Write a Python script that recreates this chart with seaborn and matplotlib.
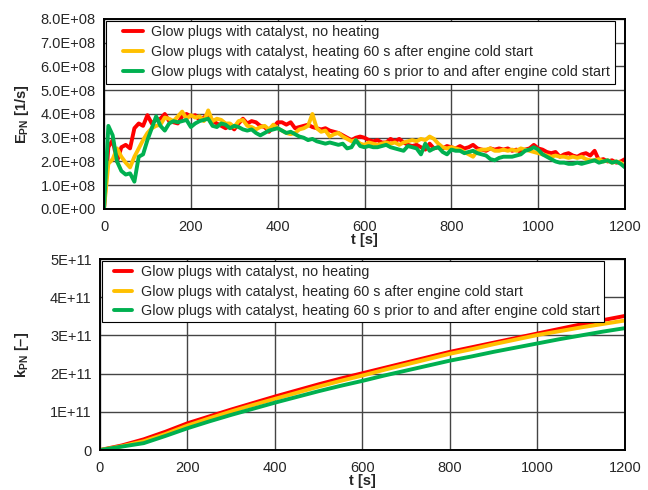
import numpy as np
import pandas as pd
import matplotlib
matplotlib.use('Agg')
import matplotlib.pyplot as plt
import seaborn as sns
from matplotlib.ticker import FuncFormatter, MultipleLocator
from matplotlib.lines import Line2D
from matplotlib.legend_handler import HandlerLine2D

# legend names
labels = ['Glow plugs with catalyst, no heating',
          'Glow plugs with catalyst, heating 60 s after engine cold start',
          'Glow plugs with catalyst, heating 60 s prior to and after engine cold start']
colores = ['#FF0000', '#FFC000', '#00B050']

# time axis of the E_PN curves (s)
t_e = list(range(0, 1210, 10))

# E_PN in 1E8 1/s
e_red = [0, 2.6, 2.9, 2.0, 2.6, 2.7, 2.55, 3.4, 3.6, 3.5,
         3.95, 3.6, 3.75, 3.8, 4.0, 3.7, 3.65, 3.6, 3.9, 4.0,
         3.9, 3.95, 3.75, 3.85, 4.0, 3.7, 3.6, 3.5, 3.4, 3.5,
         3.35, 3.6, 3.8, 3.6, 3.7, 3.65, 3.5, 3.45, 3.25, 3.45,
         3.65, 3.65, 3.55, 3.65, 3.4, 3.45, 3.5, 3.55, 3.45, 3.4,
         3.35, 3.4, 3.3, 3.25, 3.2, 3.1, 3.0, 2.9, 3.0, 3.05,
         3.0, 2.9, 2.85, 2.9, 2.8, 2.8, 2.95, 2.85, 2.95, 2.8,
         2.7, 2.65, 2.7, 2.6, 2.5, 2.75, 2.55, 2.6, 2.55, 2.65,
         2.6, 2.55, 2.65, 2.55, 2.6, 2.7, 2.55, 2.5, 2.45, 2.55,
         2.5, 2.55, 2.5, 2.55, 2.45, 2.5, 2.4, 2.5, 2.55, 2.7,
         2.55, 2.5, 2.4, 2.35, 2.4, 2.2, 2.3, 2.35, 2.25, 2.2,
         2.3, 2.35, 2.25, 2.45, 2.05, 2.1, 2.0, 2.05, 1.95, 2.0,
         2.1]
e_yellow = [0, 1.9, 2.1, 2.55, 2.2, 1.95, 1.75, 2.2, 2.55, 2.9,
            3.2, 3.4, 3.5, 3.55, 3.85, 3.8, 3.7, 3.9, 4.1, 3.8,
            3.95, 3.85, 3.9, 3.7, 4.15, 3.7, 3.8, 3.75, 3.6, 3.6,
            3.45, 3.7, 3.75, 3.5, 3.45, 3.35, 3.45, 3.5, 3.35, 3.55,
            3.4, 3.3, 3.2, 3.15, 3.2, 3.35, 3.4, 3.5, 4.0, 3.4,
            3.25, 3.3, 3.05, 3.15, 3.2, 3.05, 2.95, 2.85, 2.9, 2.75,
            2.7, 2.8, 2.75, 2.7, 2.75, 2.8, 2.75, 2.8, 2.7, 2.8,
            2.85, 2.9, 2.85, 2.95, 2.9, 3.05, 2.95, 2.75, 2.6, 2.55,
            2.6, 2.55, 2.5, 2.4, 2.3, 2.2, 2.45, 2.5, 2.5, 2.55,
            2.45, 2.45, 2.5, 2.45, 2.5, 2.45, 2.55, 2.5, 2.45, 2.4,
            2.35, 2.3, 2.25, 2.2, 2.25, 2.2, 2.2, 2.15, 2.2, 2.15,
            2.2, 2.1, 2.05, 2.05, 2.1, 2.0, 2.05, 1.95, 2.0, 1.95,
            1.8]
e_green = [0, 3.5, 3.1, 2.0, 1.6, 1.45, 1.5, 1.15, 2.2, 2.3,
           2.9, 3.4, 3.9, 3.5, 3.3, 3.6, 3.7, 3.65, 3.7, 3.75,
           3.45, 3.6, 3.7, 3.75, 3.8, 3.5, 3.45, 3.6, 3.55, 3.4,
           3.5, 3.45, 3.35, 3.3, 3.35, 3.2, 3.1, 3.2, 3.3, 3.35,
           3.4, 3.3, 3.2, 3.25, 3.15, 3.05, 3.0, 2.9, 2.95, 2.85,
           2.8, 2.75, 2.8, 2.75, 2.7, 2.75, 2.55, 2.6, 2.9, 2.65,
           2.6, 2.65, 2.6, 2.6, 2.65, 2.7, 2.6, 2.55, 2.5, 2.45,
           2.65, 2.6, 2.55, 2.3, 2.75, 2.45, 2.55, 2.6, 2.4, 2.3,
           2.5, 2.45, 2.45, 2.35, 2.4, 2.45, 2.35, 2.3, 2.25, 2.1,
           2.05, 2.15, 2.2, 2.2, 2.2, 2.25, 2.3, 2.45, 2.5, 2.6,
           2.5, 2.3, 2.2, 2.1, 2.0, 1.95, 1.95, 1.9, 1.9, 1.95,
           1.9, 1.95, 2.0, 2.05, 1.95, 2.0, 2.05, 1.95, 2.0, 1.9,
           1.75]

# cumulative k_PN in 1E11, read every 50 s
t_k = list(range(0, 1250, 50))
k_red = [0, 0.12, 0.28, 0.48, 0.70, 0.88, 1.06, 1.23, 1.40, 1.56, 1.72, 1.87, 2.01,
         2.15, 2.29, 2.43, 2.57, 2.69, 2.81, 2.93, 3.05, 3.17, 3.29, 3.40, 3.51]
k_yellow = [0, 0.10, 0.23, 0.42, 0.64, 0.83, 1.01, 1.18, 1.34, 1.50, 1.66, 1.81, 1.95,
            2.10, 2.24, 2.38, 2.52, 2.64, 2.77, 2.89, 3.01, 3.11, 3.21, 3.30, 3.39]
k_green = [0, 0.09, 0.18, 0.37, 0.57, 0.75, 0.92, 1.08, 1.24, 1.39, 1.54, 1.68, 1.81,
           1.95, 2.08, 2.21, 2.34, 2.45, 2.57, 2.68, 2.79, 2.90, 3.00, 3.10, 3.19]

sns.set_style('white')
plt.rcParams['font.family'] = ['Liberation Sans', 'DejaVu Sans']
plt.rcParams['mathtext.fontset'] = 'custom'
plt.rcParams['mathtext.rm'] = 'Liberation Sans'
plt.rcParams['mathtext.bf'] = 'Liberation Sans:bold'

fig = plt.figure(figsize=(6.48, 4.9), dpi=100)
ax1 = fig.add_axes([0.1605, 0.5735, 0.804, 0.3878])
ax2 = fig.add_axes([0.1543, 0.0816, 0.810, 0.3898])

# tabelas longas para o seaborn
df_e = pd.concat([pd.DataFrame({'t': t_e, 'v': np.array(v) * 1e8, 'serie': lab})
                  for v, lab in zip([e_red, e_yellow, e_green], labels)])
df_k = pd.concat([pd.DataFrame({'t': t_k, 'v': np.array(v) * 1e11, 'serie': lab})
                  for v, lab in zip([k_red, k_yellow, k_green], labels)])

sns.lineplot(data=df_e, x='t', y='v', hue='serie', palette=colores, linewidth=2.8, ax=ax1)
sns.lineplot(data=df_k, x='t', y='v', hue='serie', palette=colores, linewidth=2.8, ax=ax2)

ylab_e = r'E$_{\mathbf{PN}}$ [1/s]'
ylab_k = r'k$_{\mathbf{PN}}$ [' + '\u2013' + ']'

# (eixo, ymax, passo, formato, rótulo, x do rótulo, legenda: xpad, handlelength, labelspacing, fonte)
configs = [
    (ax1, 8e8, 1e8, lambda v, p: f'{v:.1E}', ylab_e, -0.140, 0.9, 2.26, 0.42, 10.3),
    (ax2, 5e11, 1e11, lambda v, p: '0' if v == 0 else f'{v:.0E}', ylab_k, -0.131, 0.5, 1.8, 0.36, 10.3),
]
for ax, ymax, ystep, fmt, ylab, xlab_pos, xpad, hlen, lspace, fsize in configs:
    ax.set_xlim(0, 1200)
    ax.set_ylim(0, ymax)
    ax.xaxis.set_major_locator(MultipleLocator(200))
    ax.yaxis.set_major_locator(MultipleLocator(ystep))
    ax.yaxis.set_major_formatter(FuncFormatter(fmt))
    ax.grid(True, color='#444444', linewidth=1.0)
    ax.set_axisbelow(True)
    for s in ax.spines.values():
        s.set_color('black')
        s.set_linewidth(1.4)
    ax.tick_params(axis='y', length=0, labelsize=10.5, pad=6)
    ax.tick_params(axis='x', length=0, labelsize=10.5, pad=8)
    ax.set_xlabel('t [s]', fontsize=10.5, fontweight='bold', labelpad=-1)
    ax.set_ylabel(ylab, fontsize=10.5, fontweight='bold')
    ax.yaxis.set_label_coords(xlab_pos, 0.5)
    leg = ax.legend(loc='upper left', fontsize=fsize, frameon=True, fancybox=False,
                    edgecolor='black', handlelength=hlen, handletextpad=0.6,
                    borderaxespad=0.15, labelspacing=lspace, borderpad=0.3, framealpha=1,
                    handler_map={Line2D: HandlerLine2D(xpad=xpad)})
    leg.get_frame().set_linewidth(0.8)

fig.savefig('out.png', dpi=100)
